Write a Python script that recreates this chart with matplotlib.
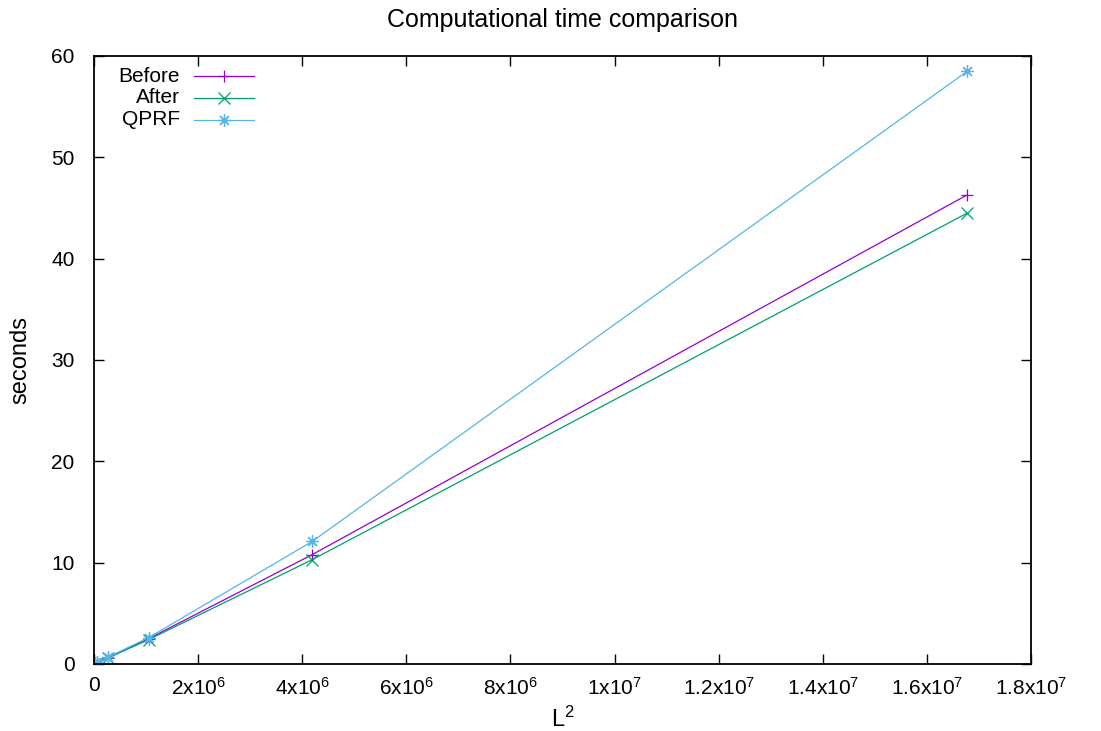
import matplotlib
matplotlib.use('Agg')
import matplotlib.pyplot as plt
from matplotlib.lines import Line2D
from matplotlib.ticker import FixedLocator, FuncFormatter

plt.rcParams['font.family'] = ['Liberation Sans', 'DejaVu Sans']
plt.rcParams['mathtext.default'] = 'regular'

# L = 64 ... 4096, x axis is L^2
L2 = [4096, 16384, 65536, 262144, 1048576, 4194304, 16777216]
before = [0.01, 0.04, 0.15, 0.6, 2.5, 10.8, 46.3]
after = [0.01, 0.04, 0.14, 0.58, 2.4, 10.3, 44.5]
qprf = [0.01, 0.05, 0.16, 0.65, 2.6, 12.1, 58.5]

series = [('Before', before, '#9400d3', '+'),
          ('After', after, '#009e73', 'x'),
          ('QPRF', qprf, '#56b4e9', (8, 2, 0))]

fig = plt.figure(figsize=(11.01, 7.31), dpi=100)
ax = fig.add_axes([0.0854, 0.0917, 0.8510, 0.8317])

for name, vals, col, mk in series:
    ax.plot(L2, vals, color=col, lw=0.9, marker=mk, ms=9, mew=0.9)

ax.set_xlim(0, 1.8e7)
ax.set_ylim(0, 60)

def xfmt(v, pos):
    if v == 0:
        return '0'
    exp = 0
    m = v
    while m >= 10:
        m /= 10
        exp += 1
    ms = ('%g' % m)
    return ms + 'x10$^{%d}$' % exp

ax.xaxis.set_major_locator(FixedLocator([i * 2e6 for i in range(10)]))
ax.xaxis.set_major_formatter(FuncFormatter(xfmt))
ax.yaxis.set_major_locator(FixedLocator(range(0, 61, 10)))
ax.tick_params(direction='in', length=7, width=1, top=True, right=True,
               labelsize=15)
ax.tick_params(axis='y', pad=14)
ax.tick_params(axis='x', pad=9)
for s in ax.spines.values():
    s.set_linewidth(1.3)

ax.set_title('Computational time comparison', fontsize=18, pad=21)
ax.set_xlabel('L$^{2}$', fontsize=17, labelpad=6)
ax.set_ylabel('seconds', fontsize=17, labelpad=14)

# gnuplot style key: label right aligned, then sample
ys = [0.967, 0.931, 0.895]
for (name, vals, col, mk), y in zip(series, ys):
    ax.text(0.0918, y, name, transform=ax.transAxes, ha='right', va='center',
            fontsize=15)
    ax.add_line(Line2D([0.1067, 0.1707], [y, y], transform=ax.transAxes,
                       color=col, lw=0.9))
    ax.add_line(Line2D([0.1387], [y], transform=ax.transAxes, color=col,
                       marker=mk, ms=9, mew=0.9, ls='none'))

fig.savefig('out.png', dpi=100)
